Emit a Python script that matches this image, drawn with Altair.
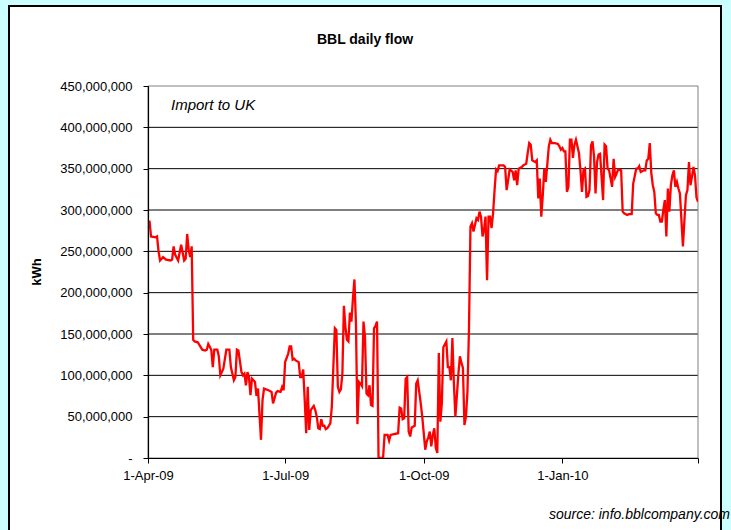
import altair as alt
import pandas as pd

# ---- data ----
START = "2009-04-01"
days = [0, 1, 2, 5, 6, 7, 8, 10, 12, 15, 16, 17, 18, 20, 22, 24, 25, 26, 27, 28, 29,
        30, 31, 33, 36, 38, 39, 40, 42, 43, 44, 46, 47, 48, 50, 52, 54, 55, 57, 58, 59,
        60, 62, 63, 64, 65, 66, 67, 68, 69, 70, 71, 72, 73, 75, 76, 77, 80, 82, 83, 85,
        86, 88, 89, 90, 91, 93, 94, 95, 96, 97, 98, 100, 101, 102, 103, 104, 105, 106,
        107, 108, 110, 111, 112, 113, 114, 115, 116, 117, 118, 119, 121, 122, 123, 124,
        125, 126, 127, 128, 129, 130, 131, 132, 133, 134, 135, 136, 137, 138, 139, 140,
        141, 142, 143, 144, 145, 146, 147, 148, 149, 150, 151, 152, 153, 156, 157, 159,
        160, 161, 166, 167, 168, 169, 170, 171, 172, 173, 174, 175, 177, 178, 179, 180,
        181, 182, 183, 184, 185, 186, 187, 188, 189, 190, 191, 192, 193, 194, 195, 196,
        198, 199, 200, 201, 202, 203, 204, 206, 207, 208, 209, 210, 211, 212, 213, 214,
        215, 216, 218, 219, 220, 221, 222, 223, 224, 225, 226, 227, 228, 229, 230, 231,
        232, 233, 236, 237, 238, 239, 240, 242, 243, 244, 245, 246, 248, 249, 251, 252,
        253, 254, 255, 257, 258, 259, 260, 261, 262, 263, 264, 266, 267, 268, 270, 272,
        273, 274, 275, 276, 277, 278, 279, 280, 281, 282, 283, 284, 286, 287, 288, 289,
        290, 291, 292, 293, 294, 295, 296, 297, 298, 299, 300, 301, 302, 303, 304, 305,
        306, 307, 308, 309, 310, 311, 312, 314, 315, 316, 318, 319, 321, 322, 324, 325,
        326, 327, 329, 330, 331, 332, 333, 334, 335, 336, 337, 338, 339, 340, 341, 342,
        343, 344, 345, 346, 347, 348, 349, 350, 351, 352, 353, 354, 355, 356, 357, 358,
        359, 360, 361, 362, 363, 364, 365]
flow_million_kwh = [282, 287, 268, 267, 268, 250, 239, 243, 240, 239, 240, 256, 246, 239, 258, 239, 241, 271, 252, 243, 256,
                    143, 141, 140, 131, 130, 131, 138, 131, 110, 131, 131, 123, 100, 108, 131, 131, 110, 94, 98, 131,
                    130, 104, 100, 102, 88, 104, 98, 76, 96, 94, 92, 75, 84, 22, 70, 84, 82, 80, 66, 79,
                    81, 80, 86, 82, 116, 126, 135, 135, 119, 120, 118, 116, 98, 98, 107, 70, 30, 86,
                    34, 58, 63, 58, 50, 36, 35, 47, 39, 39, 35, 36, 42, 62, 110, 157,
                    155, 86, 80, 83, 102, 184, 159, 143, 141, 176, 165, 193, 216, 163, 41, 92,
                    90, 87, 165, 147, 78, 76, 88, 64, 63, 157, 160, 165, 0, 0, 28, 28,
                    21, 28, 30, 61, 60, 47, 48, 96, 98, 32, 26, 37, 39, 90, 94, 80,
                    66, 50, 30, 10, 20, 25, 32, 14, 28, 36, 12, 6, 127, 44, 66, 134,
                    141, 110, 110, 94, 145, 90, 50, 102, 123, 115, 109, 40, 50, 80, 155, 280,
                    284, 274, 290, 288, 298, 292, 268, 276, 292, 215, 292, 292, 278, 296, 324, 349,
                    347, 354, 354, 352, 324, 336, 349, 346, 336, 348, 330, 350, 352, 354, 356, 369,
                    381, 379, 360, 358, 360, 314, 338, 292, 318, 350, 334, 377, 385, 381, 381, 380,
                    377, 373, 375, 371, 371, 322, 328, 385, 385, 363, 379, 385, 369, 348, 322, 348,
                    350, 316, 317, 324, 378, 383, 365, 320, 358, 367, 368, 340, 312, 379, 377, 350,
                    348, 338, 328, 362, 340, 344, 349, 348, 298, 296, 294, 295, 295, 332, 350, 350,
                    353, 346, 348, 348, 360, 362, 381, 345, 330, 322, 296, 294, 294, 286, 286, 300,
                    312, 268, 326, 298, 330, 342, 348, 328, 334, 326, 320, 288, 256, 288, 318, 324,
                    358, 330, 340, 352, 342, 315, 310]

y_ticks = [0, 50e6, 100e6, 150e6, 200e6, 250e6, 300e6, 350e6, 400e6, 450e6]
grid_values = [50e6, 100e6, 150e6, 200e6, 250e6, 300e6, 350e6, 400e6]
x_tick_dates = ["2009-04-01", "2009-07-01", "2009-10-01", "2010-01-01", "2010-04-01"]

TITLE = "BBL daily flow"
Y_TITLE = "kWh"
NOTE = "Import to UK"
SOURCE = "source: info.bblcompany.com"

# ---- tables ----
df = pd.DataFrame({
    "date": (pd.to_datetime(START) + pd.to_timedelta(days, unit="D")).strftime("%Y-%m-%d"),
    "flow": [v * 1e6 for v in flow_million_kwh],
})
grid_df = pd.DataFrame({"g": grid_values})


def dt(s):
    t = pd.Timestamp(s)
    return alt.DateTime(year=t.year, month=t.month, date=t.day, utc=True)


FONT = "Liberation Sans"
W, H = 550, 372
OX, OY = 148, 86  # plot origin in page pixels

x_scale = alt.Scale(type="utc", domain=[dt(x_tick_dates[0]), dt(x_tick_dates[-1])], nice=False)
y_scale = alt.Scale(domain=[0, 450e6], nice=False, zero=True)

zero_label = "-" + "\u00a0" * 4
y_axis = alt.Axis(
    values=y_ticks,
    labelExpr=f"datum.value == 0 ? '{zero_label}' : format(datum.value, ',')",
    grid=False, zindex=1, tickSize=5, labelPadding=11,
    labelFont=FONT, labelFontSize=13, labelColor="black",
    domainColor="black", tickColor="black", domainWidth=1.2, tickWidth=1,
    labelOverlap=False, title=None,
)
x_axis = alt.Axis(
    values=[dt(d) for d in x_tick_dates],
    labelExpr="datum.value >= utc(2010, 2, 1) ? '' : utcFormat(datum.value, '%-d-%b-%y')",
    grid=False, zindex=1, tickSize=5, labelPadding=6,
    labelFont=FONT, labelFontSize=13, labelColor="black",
    domainColor="black", tickColor="black", domainWidth=1.2, tickWidth=1,
    labelFlush=False, labelOverlap=False, title=None,
)

frame = alt.Chart(alt.Data(values=[{}])).mark_rect(
    fill="white", stroke="black", strokeWidth=2
).encode(
    x=alt.value(9 - OX), x2=alt.value(721 - OX), y=alt.value(6 - OY), y2=alt.value(560 - OY)
)

grid = alt.Chart(grid_df).mark_rule(color="black", strokeWidth=1).encode(
    y=alt.Y("g:Q", scale=y_scale, axis=y_axis, title=None)
)

border = alt.Chart(alt.Data(values=[{}])).mark_rect(
    fill=None, stroke="#808080", strokeWidth=1
).encode(
    x=alt.value(0), x2=alt.value(W), y=alt.value(0), y2=alt.value(H)
)

line = alt.Chart(df).mark_line(color="#FF0000", strokeWidth=2.3, clip=True).encode(
    x=alt.X("date:T", scale=x_scale, axis=x_axis, title=None),
    y=alt.Y("flow:Q", scale=y_scale, axis=y_axis, title=None),
)


def text_layer(txt, x, y, **kw):
    return alt.Chart(alt.Data(values=[{"t": txt}])).mark_text(font=FONT, color="black", **kw).encode(
        x=alt.value(x - OX), y=alt.value(y - OY), text="t:N"
    )


title = text_layer(TITLE, 365, 40, fontSize=14, fontWeight="bold", align="center", baseline="middle")
ytitle = text_layer(Y_TITLE, 37, 272, fontSize=13, fontWeight="bold", align="center", baseline="middle", angle=270)
note = text_layer(NOTE, 171, 105, fontSize=15, fontStyle="italic", align="left", baseline="middle")
source = text_layer(SOURCE, 730, 515, fontSize=14, fontStyle="italic", align="right", baseline="middle")

chart = alt.layer(frame, grid, border, line, title, ytitle, note, source).properties(
    width=W, height=H,
    autosize=alt.AutoSizeParams(type="none"),
    padding={"left": OX, "top": OY, "right": 731 - OX - W, "bottom": 530 - OY - H},
).configure(background="#CCFFFF").configure_view(stroke=None)

chart.save("out.html", embed_options={"renderer": "svg", "actions": False})
